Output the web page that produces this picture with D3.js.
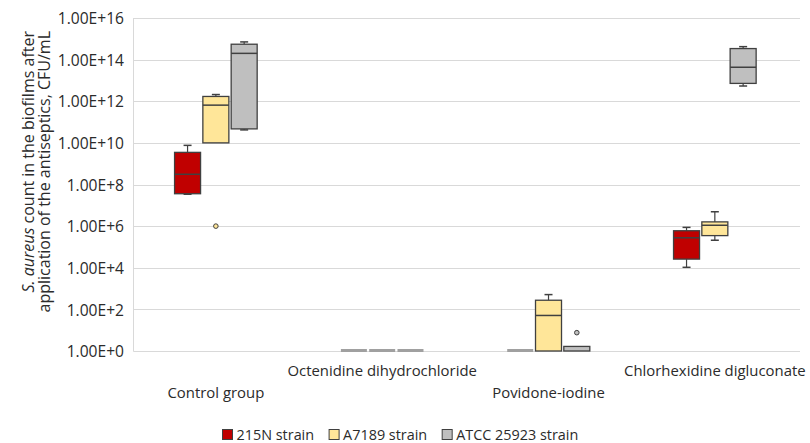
<!DOCTYPE html>
<html>
<head>
<meta charset="utf-8">
<script src="https://cdn.jsdelivr.net/npm/d3@7"></script>
<style>
  html, body { margin: 0; padding: 0; background: #fff; }
  svg { display: block; font-family: "Open Sans", "Noto Sans", sans-serif; }
</style>
</head>
<body>
<svg id="chart" width="810" height="443"></svg>
<script>
// Antiseptic groups along the x axis
const categories = ["Control group", "Octenidine dihydrochloride", "Povidone-iodine", "Chlorhexidine digluconate"];
const seriesNames = ["215N strain", "A7189 strain", "ATCC 25923 strain"];
const seriesColors = ["#C00000", "#FFE699", "#BFBFBF"];

// Box statistics per group, CFU/mL: [lower whisker, Q1, median, Q3, upper whisker]
const strain215N = [
  [3.4e7, 3.6e7, 3.1e8, 3.5e9, 7.6e9],
  [1, 1, 1, 1, 1],
  [1, 1, 1, 1, 1],
  [1.05e4, 2.6e4, 2.75e5, 6.0e5, 8.7e5]
];
const strainA7189 = [
  [1.0e10, 1.0e10, 6.5e11, 1.7e12, 2.1e12],
  [1, 1, 1, 1, 1],
  [1, 1, 51, 275, 513],
  [2.1e5, 3.5e5, 1.1e6, 1.6e6, 4.9e6]
];
const strainATCC = [
  [4.2e10, 4.7e10, 2.0e14, 5.5e14, 7.1e14],
  [1, 1, 1, 1, 1],
  [1, 1, 1, 1.66, 1.66],
  [5.4e12, 7.2e12, 4.3e13, 3.4e14, 4.2e14]
];
// Outlying points: [series index, group index, value]
const outliers = [
  [1, 0, 1.0e6],
  [2, 2, 7.6]
];
// Axis tick values (powers of ten)
const tickExponents = [0, 2, 4, 6, 8, 10, 12, 14, 16];

const seriesData = [strain215N, strainA7189, strainATCC];

const svg = d3.select("#chart");
const plot = { left: 133.5, right: 800, top: 18, bottom: 351 };
const textColor = "#2b2b2b";
const gridColor = "#d9d9d9";
const edge = "#404040";

const y = d3.scaleLog().domain([1, 1e16]).range([plot.bottom, plot.top]);
const x = d3.scaleBand().domain(categories).range([plot.left - 0.8, plot.right - 2]);
const xs = d3.scalePoint().domain(seriesNames).range([-28.3, 28.3]);
const boxW = 26;
const capW = 8;

// Horizontal gridlines
const tickVals = tickExponents.map(e => Math.pow(10, e));
svg.append("g").selectAll("line").data(tickVals.slice(1)).join("line")
  .attr("x1", plot.left).attr("x2", plot.right)
  .attr("y1", d => Math.round(y(d)) + 0.5).attr("y2", d => Math.round(y(d)) + 0.5)
  .attr("stroke", gridColor).attr("stroke-width", 1);

// Axis lines
svg.append("line").attr("x1", plot.left).attr("x2", plot.left)
  .attr("y1", plot.top).attr("y2", plot.bottom + 0.5)
  .attr("stroke", gridColor);
svg.append("line").attr("x1", plot.left).attr("x2", plot.right)
  .attr("y1", plot.bottom + 0.5).attr("y2", plot.bottom + 0.5)
  .attr("stroke", gridColor);

// Y axis labels
const yAxis = d3.axisLeft(y).tickValues(tickVals)
  .tickFormat(d => "1.00E+" + Math.round(Math.log10(d)))
  .tickSize(0).tickPadding(0);
const yg = svg.append("g").attr("transform", `translate(${plot.left - 9.5},0)`).call(yAxis);
yg.select(".domain").remove();
yg.selectAll("text").attr("fill", textColor).attr("font-size", "15.6px")
  .attr("font-family", "'Open Sans', sans-serif").attr("dy", "0.36em");

// Y axis title (two lines, rotated, aligned at the top end)
const title = svg.append("text")
  .attr("transform", "translate(0,31) rotate(-90)")
  .attr("text-anchor", "end").attr("fill", textColor).attr("font-size", "16px");
const t1 = title.append("tspan").attr("x", 0).attr("y", 34);
t1.append("tspan").attr("font-style", "italic").text("S. aureus");
t1.append("tspan").text(" count in the biofilms after");
title.append("tspan").attr("x", 0).attr("y", 50).text("application of the antiseptics, CFU/mL");

// Category labels, staggered in two rows
svg.append("g").selectAll("text").data(categories).join("text")
  .attr("x", d => x(d) + x.bandwidth() / 2)
  .attr("y", (d, i) => i % 2 === 0 ? 397.5 : 375.5)
  .attr("text-anchor", "middle").attr("fill", textColor).attr("font-size", "14.9px")
  .text(d => d);

// Box plots
const boxes = [];
seriesData.forEach((rows, si) => {
  rows.forEach((stats, ci) => {
    boxes.push({ si, ci, stats });
  });
});

const g = svg.append("g");
boxes.forEach(b => {
  const cx = x(categories[b.ci]) + x.bandwidth() / 2 + xs(seriesNames[b.si]);
  const [lo, q1, med, q3, hi] = b.stats.map(v => y(v));
  const bg = g.append("g");
  if (Math.abs(q1 - q3) < 0.5) {
    // Zero-spread box collapses to a flat bar on the baseline
    bg.append("line").attr("x1", cx - boxW / 2).attr("x2", cx + boxW / 2)
      .attr("y1", q1 - 0.5).attr("y2", q1 - 0.5)
      .attr("stroke", "#a0a0a0").attr("stroke-width", 3);
    return;
  }
  // Whiskers
  if (hi < q3 - 0.5) {
    bg.append("line").attr("x1", cx).attr("x2", cx).attr("y1", hi).attr("y2", q3)
      .attr("stroke", edge).attr("stroke-width", 1.2);
    bg.append("line").attr("x1", cx - capW / 2).attr("x2", cx + capW / 2).attr("y1", hi).attr("y2", hi)
      .attr("stroke", edge).attr("stroke-width", 1.5);
  }
  if (lo > q1 + 0.3) {
    bg.append("line").attr("x1", cx).attr("x2", cx).attr("y1", q1).attr("y2", lo)
      .attr("stroke", edge).attr("stroke-width", 1.2);
    bg.append("line").attr("x1", cx - capW / 2).attr("x2", cx + capW / 2).attr("y1", lo).attr("y2", lo)
      .attr("stroke", edge).attr("stroke-width", 1.5);
  }
  bg.append("rect").attr("x", cx - boxW / 2).attr("y", q3)
    .attr("width", boxW).attr("height", q1 - q3)
    .attr("fill", seriesColors[b.si]).attr("stroke", edge).attr("stroke-width", 1.3);
  if (Math.abs(med - q1) > 0.5) {
    bg.append("line").attr("x1", cx - boxW / 2).attr("x2", cx + boxW / 2)
      .attr("y1", med).attr("y2", med).attr("stroke", edge).attr("stroke-width", 1.5);
  }
});

// Outliers
g.selectAll("circle").data(outliers).join("circle")
  .attr("cx", d => x(categories[d[1]]) + x.bandwidth() / 2 + xs(seriesNames[d[0]]))
  .attr("cy", d => y(d[2]))
  .attr("r", 2.3)
  .attr("fill", d => seriesColors[d[0]])
  .attr("stroke", edge).attr("stroke-width", 1);

// Legend
const legend = svg.append("g");
const items = legend.selectAll("g").data(seriesNames).join("g");
items.append("rect").attr("width", 10).attr("height", 10).attr("y", 429.5)
  .attr("fill", (d, i) => seriesColors[i]).attr("stroke", edge).attr("stroke-width", 1);
items.append("text").attr("x", 14).attr("y", 439.5).attr("fill", textColor)
  .attr("font-size", "14.4px").text(d => d);
const widths = [];
items.each(function () {
  widths.push(14 + d3.select(this).select("text").node().getComputedTextLength());
});
const gap = 15;
let offset = 222.5;
items.attr("transform", (d, i) => {
  const tx = offset;
  offset += widths[i] + gap;
  return `translate(${tx},0)`;
});
</script>
</body>
</html>
